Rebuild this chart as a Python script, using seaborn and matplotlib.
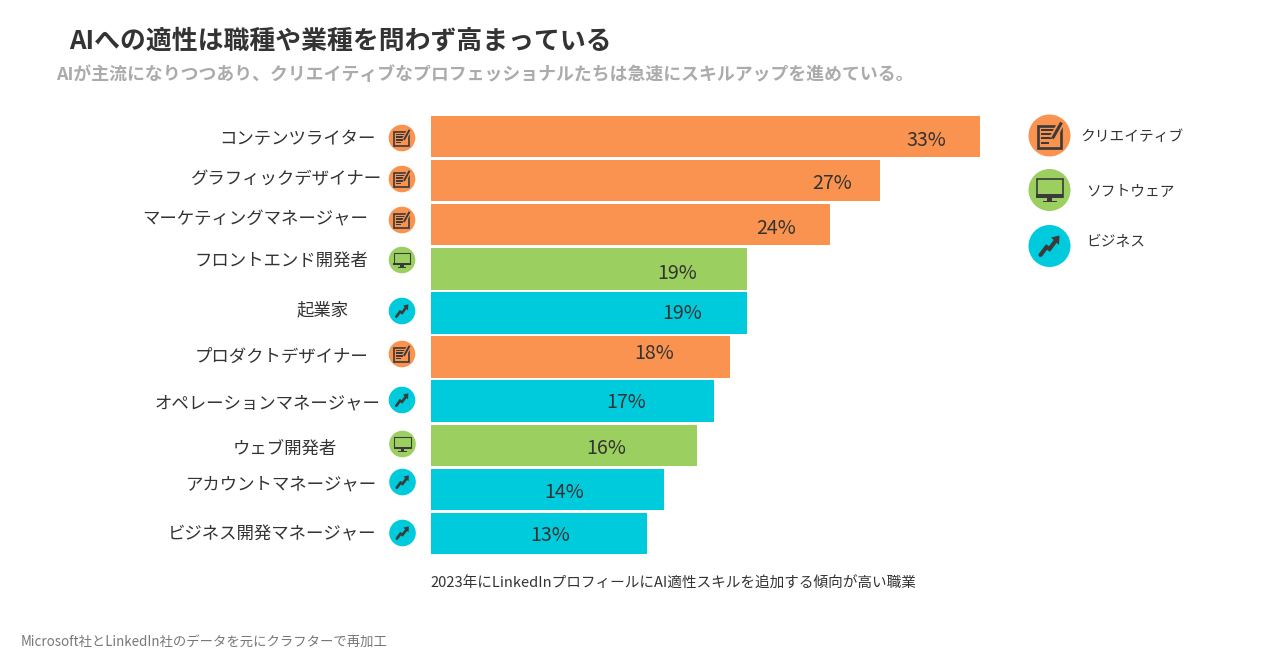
import matplotlib
matplotlib.use("Agg")
import matplotlib.pyplot as plt
from matplotlib.patches import Circle, Rectangle, Polygon
import pandas as pd
import seaborn as sns

roles = ["コンテンツライター", "グラフィックデザイナー", "マーケティングマネージャー",
         "フロントエンド開発者", "起業家", "プロダクトデザイナー",
         "オペレーションマネージャー", "ウェブ開発者", "アカウントマネージャー",
         "ビジネス開発マネージャー"]
shares = [33, 27, 24, 19, 19, 18, 17, 16, 14, 13]
groups = ["クリエイティブ", "クリエイティブ", "クリエイティブ", "ソフトウェア", "ビジネス",
          "クリエイティブ", "ビジネス", "ソフトウェア", "ビジネス", "ビジネス"]
group_names = ["クリエイティブ", "ソフトウェア", "ビジネス"]
title = "AIへの適性は職種や業種を問わず高まっている"
subtitle = "AIが主流になりつつあり、クリエイティブなプロフェッショナルたちは急速にスキルアップを進めている。"
note = "2023年にLinkedInプロフィールにAI適性スキルを追加する傾向が高い職業"
source = "Microsoft社とLinkedIn社のデータを元にクラフターで再加工"

# layout (pixels)
W, H = 1280, 670
colors = {"クリエイティブ": "#F9934F", "ソフトウェア": "#9BCF60", "ビジネス": "#00CBDD"}
label_xy = [(297, 139), (287, 180), (255, 219), (281, 261), (323, 310),
            (281.5, 357), (267, 403), (285, 449), (281, 484), (272.5, 534)]
icon_xy = [(402, 138), (402, 179), (402, 220), (402, 260), (402, 311),
           (402, 354), (402, 400), (402.5, 444), (402.5, 482), (402.5, 533)]
value_xy = [(926, 140.5), (832, 183.5), (776.5, 228.5), (677, 273.5), (682.5, 313.5),
            (654.5, 353.5), (626.5, 402.5), (606.5, 448.5), (564, 492.5), (550.5, 535.5)]
legend_icon_xy = [(1049.5, 135.5), (1049.5, 190), (1049.5, 246)]
legend_text_xy = [(1132.5, 137), (1130, 191), (1116, 242)]

sns.set_theme(style="white")
plt.rcParams["font.family"] = ["Noto Sans CJK JP", "DejaVu Sans"]
DARK = "#333333"

fig = plt.figure(figsize=(W / 100, H / 100), dpi=100, facecolor="white")

# bar axes
top, bottom = 114.45, 555.55
ax = fig.add_axes([431 / W, 1 - bottom / H, (980 - 431) / W, (bottom - top) / H])
df = pd.DataFrame({"role": roles, "share": shares, "group": groups})
sns.barplot(data=df, x="share", y="role", hue="group", hue_order=group_names,
            palette=colors, dodge=False, width=0.94, saturation=1, legend=False,
            linewidth=0, edgecolor="none", ax=ax)
ax.set_xlim(0, 33)
ax.set_ylim(9.5, -0.5)
ax.axis("off")

# overlay in pixel coordinates
ov = fig.add_axes([0, 0, 1, 1], zorder=5)
ov.set_xlim(0, W)
ov.set_ylim(H, 0)
ov.axis("off")
ov.patch.set_alpha(0)


def icon(cx, cy, r, group):
    ov.add_patch(Circle((cx, cy), r, fc=colors[group], ec="none"))
    s = r / 21
    ink = "#3a3a3a"
    if group == "クリエイティブ":
        ov.add_patch(Rectangle((cx - 12 * s, cy - 10 * s), 23 * s, 22 * s, fc="none", ec=ink, lw=1.9 * s))
        for i, w in enumerate([14, 14, 11, 8]):
            ov.add_patch(Rectangle((cx - 9 * s, cy + (-7 + i * 4.4) * s), w * s, 2.2 * s, fc=ink, ec="none"))
        ov.plot([cx + 3 * s, cx + 12 * s], [cy + 3 * s, cy - 13 * s], color=colors[group], lw=5 * s,
                solid_capstyle="butt")
        ov.plot([cx + 3 * s, cx + 12 * s], [cy + 3 * s, cy - 13 * s], color=ink, lw=2.2 * s,
                solid_capstyle="butt")
    elif group == "ソフトウェア":
        ov.add_patch(Rectangle((cx - 13 * s, cy - 11 * s), 26 * s, 18 * s, fc="none", ec=ink, lw=1.2 * s))
        ov.add_patch(Rectangle((cx - 13.5 * s, cy + 4 * s), 27 * s, 4 * s, fc=ink, ec="none"))
        ov.add_patch(Rectangle((cx - 2.5 * s, cy + 8 * s), 5 * s, 2.5 * s, fc=ink, ec="none"))
        ov.add_patch(Rectangle((cx - 7 * s, cy + 10.5 * s), 14 * s, 1.4 * s, fc=ink, ec="none"))
    else:
        ov.plot([cx - 9 * s, cx - 3 * s, cx + 0 * s, cx + 6 * s],
                [cy + 9 * s, cy + 1 * s, cy + 3 * s, cy - 5 * s],
                color=ink, lw=3 * s, solid_capstyle="round", solid_joinstyle="miter")
        ov.add_patch(Polygon([(cx + 1.5 * s, cy - 8.5 * s), (cx + 10 * s, cy - 10.5 * s), (cx + 9.5 * s, cy - 1 * s)],
                             fc=ink, ec="none"))


for name, g, (lx, ly), (ix, iy), v, (vx, vy) in zip(roles, groups, label_xy, icon_xy, shares, value_xy):
    ov.text(lx, ly, name, fontsize=12.55, color=DARK, ha="center", va="center")
    icon(ix, iy, 13.3, g)
    ov.text(vx, vy, f"{v}%", fontsize=14.1, color=DARK, ha="center", va="center")

for g, (ix, iy), (tx, ty) in zip(group_names, legend_icon_xy, legend_text_xy):
    icon(ix, iy, 21, g)
    ov.text(tx, ty, g, fontsize=10.6, color=DARK, ha="center", va="center")

ov.text(69.5, 41, title, fontsize=18.6, fontweight="bold", color=DARK, ha="left", va="center")
ov.text(56.5, 75, subtitle, fontsize=12.87, fontweight="bold", color="#ABABAB", ha="left", va="center")
ov.text(430.5, 584, note, fontsize=10.56, color=DARK, ha="left", va="center")
ov.text(21, 642, source, fontsize=9.62, color="#777777", ha="left", va="center")

fig.savefig("out.png", dpi=100, facecolor="white")
